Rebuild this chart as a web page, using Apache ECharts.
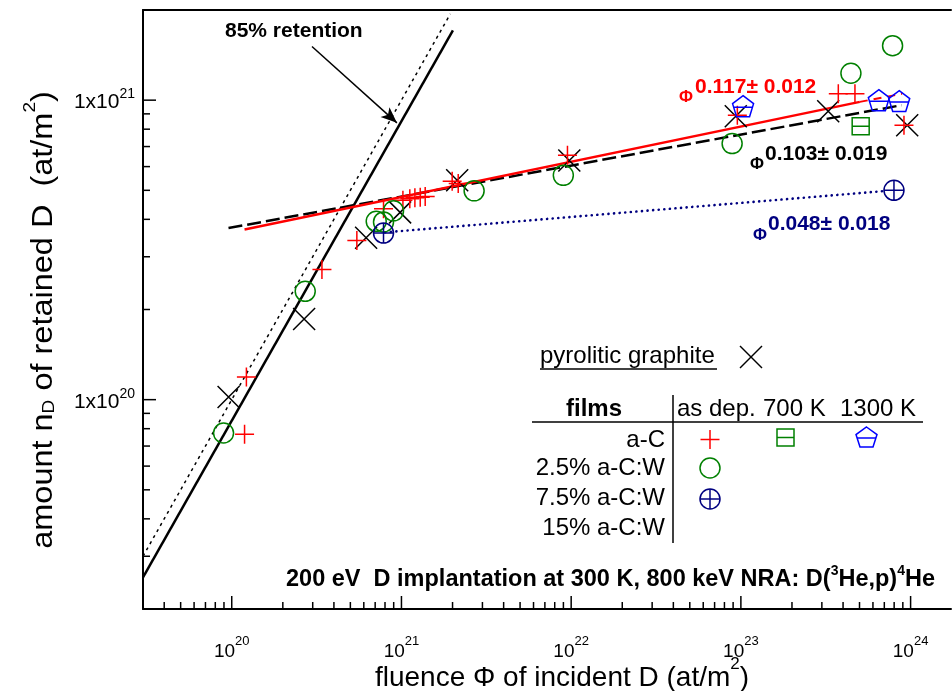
<!DOCTYPE html>
<html><head><meta charset="utf-8">
<script src="https://cdn.jsdelivr.net/npm/echarts@6/dist/echarts.min.js"></script>
<style>html,body{margin:0;padding:0;background:#fff}#c{width:952px;height:691px}</style>
</head><body><div id="c"></div>
<script>
const FONT = '"Liberation Sans", Arial, sans-serif';
const XMIN = 3e19, XMAX = 1.73e24, YMIN = 2e19, YMAX = 2e21;

// ---- data: [fluence, retained D] ----
const aC_asDep = [[1.19e20,7.67e19],[1.22e20,1.19e20],[3.40e20,2.72e20],[5.46e20,3.40e20],[7.84e20,4.34e20],
  [1.02e21,4.63e20],[1.12e21,4.69e20],[1.20e21,4.72e20],[1.29e21,4.74e20],[1.38e21,4.77e20],
  [1.99e21,5.36e20],[2.16e21,5.27e20],[9.51e21,6.55e20],[9.53e22,8.91e20],[3.75e23,1.05e21],[4.70e23,1.05e21],[9.14e23,8.24e20]];
const graphite = [[9.58e19,1.02e20],[2.67e20,1.86e20],[6.19e20,3.47e20],[9.82e20,4.22e20],[2.13e21,5.40e20],
  [9.75e21,6.29e20],[9.33e22,8.83e20],[3.27e23,9.18e20],[9.55e23,8.24e20]];
const aCW25 = [[8.95e19,7.74e19],[2.71e20,2.30e20],[7.10e20,3.94e20],[7.84e20,3.92e20],[8.98e20,4.27e20],
  [2.68e21,4.98e20],[8.99e21,5.61e20],[8.88e22,7.16e20],[4.45e23,1.23e21],[7.83e23,1.52e21]];
const aCW75 = [[7.84e20,3.60e20],[7.98e23,5.00e20]];
const aC_700K = [[5.08e23,8.18e20]];
const aC_1300K = [[1.03e23,9.55e20],[6.50e23,1.00e21],[8.57e23,9.93e20]];

// fit / guide lines
const fitAC = [[1.19e20,3.70e20],[5.02e23,9.87e20]];
const fitACext = [[5.02e23,9.87e20],[8.9e23,1.05e21]];
const fitGraphite = [[9.57e19,3.74e20],[8.85e23,9.62e20]];
const fitW75 = [[8.02e20,3.62e20],[7.23e23,4.98e20]];
const retention85 = [[3e19,2.55e19],[2.01e21,1.71e21]];
const retention100 = [[3e19,3e19],[1.94e21,1.94e21]];
const arrowFrom = [2.97e20,1.51e21], arrowTo = [9.40e20,8.40e20];

const fitLabels = [
  {phi:'Φ', exp:'0.117± 0.012', color:'#ff0000'},
  {phi:'Φ', exp:'0.103± 0.019', color:'#000000'},
  {phi:'Φ', exp:'0.048± 0.018', color:'#000080'}
];

// symbols
const S_PLUS = 'path://M0,5L10,5M5,0L5,10';
const S_X = 'path://M0,0L10,10M0,10L10,0';
const S_CROSSC = 'path://M0,5A5,5,0,1,1,10,5A5,5,0,1,1,0,5ZM5,0L5,10M0,5L10,5';
const S_BOX = 'path://M0,0L10,0L10,10L0,10ZM0,5L10,5';
const S_PENT = 'path://M5,0L10,3.6L8.1,9.5L1.9,9.5L0,3.6ZM0.45,5.2L9.55,5.2';
const S_CIRC = 'path://M0,5A5,5,0,1,1,10,5A5,5,0,1,1,0,5Z';

// tick values
const xTicks = [], yTicks = [];
for (let d = 19; d <= 24; d++) for (let m = 1; m <= 9; m++) {
  const v = m * Math.pow(10, d);
  if (v > XMIN * 1.001 && v < XMAX * 0.999) xTicks.push([v, YMIN, m === 1 ? 1 : 0]);
}
for (let d = 19; d <= 21; d++) for (let m = 1; m <= 9; m++) {
  const v = m * Math.pow(10, d);
  if (v > YMIN * 1.001 && v < YMAX * 0.999) yTicks.push([XMIN, v, m === 1 ? 1 : 0]);
}
function isPow10(v){ const l = Math.log10(v); return Math.abs(l - Math.round(l)) < 1e-6; }

function scatter(name, data, symbol, size, color, bw) {
  return { type:'scatter', name, data, symbol, symbolSize:size, z:5, silent:true,
    itemStyle:{ color:'rgba(0,0,0,0)', borderColor:color, borderWidth:bw||1.5, opacity:1 } };
}
function line(data, color, width, type, z, cap) {
  return { type:'line', data, symbol:'none', silent:true, z:z||3, clip:true,
    lineStyle:{ color, width, type, cap: cap||'butt' } };
}
function ln(x1,y1,x2,y2,c){ return { type:'line', silent:true, shape:{x1,y1,x2,y2}, style:{ stroke:c, lineWidth:1.5 } }; }

const chart = echarts.init(document.getElementById('c'), null, {renderer:'canvas'});
const LT = { fontFamily:FONT, fontSize:24, fill:'#000' };
const option = {
  animation:false,
  backgroundColor:'#fff',
  grid:{ left:143, right:1, top:10, bottom:82, containLabel:false, outerBoundsMode:'none' },
  xAxis:[{
    type:'log', min:XMIN, max:XMAX, logBase:10,
    axisLine:{ show:true, onZero:false, lineStyle:{ color:'#000', width:2 } },
    axisTick:{ show:false }, minorTick:{show:false}, splitLine:{ show:false },
    axisLabel:{ margin:26, showMinLabel:false, showMaxLabel:false,
      formatter: v => isPow10(v) ? '{b|10}{s|' + Math.round(Math.log10(v)) + '}' : '',
      rich:{ b:{ fontFamily:FONT, fontSize:19, color:'#000', lineHeight:26, verticalAlign:'bottom' },
             s:{ fontFamily:FONT, fontSize:13, color:'#000', lineHeight:26, verticalAlign:'top', padding:[0,0,9,0] } } }
  },{
    type:'log', min:XMIN, max:XMAX, position:'top',
    axisLine:{ show:true, onZero:false, lineStyle:{ color:'#000', width:2 } },
    axisTick:{show:false}, axisLabel:{show:false}, splitLine:{show:false}
  }],
  yAxis:[{
    type:'log', min:YMIN, max:YMAX, logBase:10,
    axisLine:{ show:true, onZero:false, lineStyle:{ color:'#000', width:2 } },
    axisTick:{ show:false }, splitLine:{ show:false },
    axisLabel:{ margin:8, showMinLabel:false, showMaxLabel:false,
      formatter: v => isPow10(v) ? '{b|1x10}{s|' + Math.round(Math.log10(v)) + '}' : '',
      rich:{ b:{ fontFamily:FONT, fontSize:21, color:'#000', lineHeight:26, verticalAlign:'bottom' },
             s:{ fontFamily:FONT, fontSize:14, color:'#000', lineHeight:26, verticalAlign:'top', padding:[0,0,9,0] } } }
  }],
  series:[
    { type:'custom', data:xTicks, encode:{x:0, y:1}, silent:true, z:10, clip:false,
      renderItem:(p, api) => { const c = api.coord([api.value(0), api.value(1)]); const len = api.value(2) ? 13 : 7;
        return { type:'line', shape:{ x1:c[0], y1:c[1], x2:c[0], y2:c[1]-len }, style:{ stroke:'#000', lineWidth:1.5 } }; } },
    { type:'custom', data:yTicks, encode:{x:0, y:1}, silent:true, z:10, clip:false,
      renderItem:(p, api) => { const c = api.coord([api.value(0), api.value(1)]); const len = api.value(2) ? 13 : 7;
        return { type:'line', shape:{ x1:c[0], y1:c[1], x2:c[0]+len, y2:c[1] }, style:{ stroke:'#000', lineWidth:1.5 } }; } },
    line(retention100, '#000', 1.5, [3,4], 2),
    line(retention85, '#000', 2.5, 'solid', 2),
    line(fitGraphite, '#000', 2.5, [14,5], 3),
    line(fitAC, '#ff0000', 2.5, 'solid', 4),
    line(fitACext, '#ff0000', 2, [8,6], 4),
    line(fitW75, '#000080', 2.6, [0.1,5.5], 3, 'round'),
    { type:'line', data:[], silent:true,
      markLine:{ silent:true, symbol:['none','arrow'], symbolSize:[10,16], animation:false,
        label:{show:false}, itemStyle:{ color:'#000' }, lineStyle:{ color:'#000', width:1.5, type:'solid' },
        data:[[ {coord:arrowFrom}, {coord:arrowTo} ]] } },
    scatter('graphite', graphite, S_X, 22, '#000000', 1.5),
    scatter('a-C', aC_asDep, S_PLUS, 19, '#ff0000', 1.5),
    scatter('2.5% a-C:W', aCW25, S_CIRC, 20, '#008000', 1.5),
    scatter('7.5% a-C:W', aCW75, S_CROSSC, 20, '#000080', 1.5),
    scatter('a-C 700K', aC_700K, S_BOX, 17, '#008000', 1.5),
    scatter('a-C 1300K', aC_1300K, S_PENT, 21, '#0000ff', 1.5)
  ],
  graphic:[
    { type:'text', x:562, y:674, silent:true, style:{ text:'{t|fluence Φ of incident D (at/m}{p|2}{t|)}', align:'center', verticalAlign:'middle',
      rich:{ t:{ fontFamily:FONT, fontSize:28, lineHeight:36, verticalAlign:'bottom', fill:'#000' }, p:{ fontFamily:FONT, fontSize:17, lineHeight:22, verticalAlign:'top', fill:'#000' } } } },
    { type:'text', x:40, y:320, rotation:Math.PI/2, scaleX:1.12, silent:true, style:{ text:'{t|amount n}{d|D}{t| of retained D  (at/m}{p|2}{t|)}', align:'center', verticalAlign:'middle',
      rich:{ t:{ fontFamily:FONT, fontSize:29, lineHeight:36, verticalAlign:'bottom', fill:'#000' },
             d:{ fontFamily:FONT, fontSize:17, lineHeight:18, verticalAlign:'bottom', fill:'#000' },
             p:{ fontFamily:FONT, fontSize:17, lineHeight:22, verticalAlign:'top', fill:'#000' } } } },
    { type:'text', x:225, y:31, silent:true, style:{ text:'85% retention', fontFamily:FONT, fontWeight:'bold', fontSize:21, fill:'#000', verticalAlign:'middle' } },
    { type:'text', x:686, y:97, silent:true, style:{ text:fitLabels[0].phi, fontFamily:FONT, fontWeight:'bold', fontSize:17, fill:fitLabels[0].color, align:'center', verticalAlign:'middle' } },
    { type:'text', x:695, y:87, silent:true, style:{ text:fitLabels[0].exp, fontFamily:FONT, fontWeight:'bold', fontSize:21, fill:fitLabels[0].color, verticalAlign:'middle' } },
    { type:'text', x:757, y:164, silent:true, style:{ text:fitLabels[1].phi, fontFamily:FONT, fontWeight:'bold', fontSize:17, fill:fitLabels[1].color, align:'center', verticalAlign:'middle' } },
    { type:'text', x:765, y:154, silent:true, style:{ text:fitLabels[1].exp, fontFamily:FONT, fontWeight:'bold', fontSize:21, fill:fitLabels[1].color, verticalAlign:'middle' } },
    { type:'text', x:760, y:235, silent:true, style:{ text:fitLabels[2].phi, fontFamily:FONT, fontWeight:'bold', fontSize:17, fill:fitLabels[2].color, align:'center', verticalAlign:'middle' } },
    { type:'text', x:768, y:224, silent:true, style:{ text:fitLabels[2].exp, fontFamily:FONT, fontWeight:'bold', fontSize:21, fill:fitLabels[2].color, verticalAlign:'middle' } },
    { type:'text', x:935, y:578, silent:true, style:{ text:'{t|200 eV  D implantation at 300 K, 800 keV NRA: D(}{s|3}{t|He,p)}{s|4}{t|He}', align:'right', verticalAlign:'middle',
      rich:{ t:{ fontFamily:FONT, fontWeight:'bold', fontSize:23.5, lineHeight:28, verticalAlign:'bottom', fill:'#000' }, s:{ fontFamily:FONT, fontWeight:'bold', fontSize:14, lineHeight:16, verticalAlign:'top', fill:'#000' } } } },
    // legend table
    { type:'text', x:540, y:356, silent:true, style:Object.assign({ text:'pyrolitic graphite', verticalAlign:'middle' }, LT) },
    ln(540,369,717,369,'#000'),
    ln(740,346,762,368,'#000'), ln(740,368,762,346,'#000'),
    { type:'text', x:594, y:409, silent:true, style:Object.assign({ text:'films', align:'center', verticalAlign:'middle', fontWeight:'bold' }, LT) },
    { type:'text', x:677, y:409, silent:true, style:Object.assign({ text:'as dep.', verticalAlign:'middle' }, LT) },
    { type:'text', x:763, y:409, silent:true, style:Object.assign({ text:'700 K', verticalAlign:'middle' }, LT) },
    { type:'text', x:840, y:409, silent:true, style:Object.assign({ text:'1300 K', verticalAlign:'middle' }, LT) },
    ln(532,422,923,422,'#000'),
    ln(673,395,673,543,'#000'),
    { type:'text', x:665, y:440, silent:true, style:Object.assign({ text:'a-C', align:'right', verticalAlign:'middle' }, LT) },
    { type:'text', x:665, y:468, silent:true, style:Object.assign({ text:'2.5% a-C:W', align:'right', verticalAlign:'middle' }, LT) },
    { type:'text', x:665, y:498, silent:true, style:Object.assign({ text:'7.5% a-C:W', align:'right', verticalAlign:'middle' }, LT) },
    { type:'text', x:665, y:528, silent:true, style:Object.assign({ text:'15% a-C:W', align:'right', verticalAlign:'middle' }, LT) },
    ln(700.5,439.5,719.5,439.5,'#ff0000'), ln(710,430,710,449,'#ff0000'),
    { type:'rect', silent:true, shape:{ x:777, y:429, width:17, height:17 }, style:{ stroke:'#008000', fill:null, lineWidth:1.5 } },
    ln(777,437.5,794,437.5,'#008000'),
    { type:'polygon', silent:true, shape:{ points:[[866.5,427],[877,434.6],[873,447],[860,447],[856,434.6]] }, style:{ stroke:'#0000ff', fill:null, lineWidth:1.5 } },
    ln(857,438,876,438,'#0000ff'),
    { type:'circle', silent:true, shape:{ cx:710, cy:468, r:10 }, style:{ stroke:'#008000', fill:null, lineWidth:1.5 } },
    { type:'circle', silent:true, shape:{ cx:710, cy:499, r:10 }, style:{ stroke:'#000080', fill:null, lineWidth:1.5 } },
    ln(700,499,720,499,'#000080'), ln(710,489,710,509,'#000080')
  ]
};
chart.setOption(option);
</script>
</body></html>
